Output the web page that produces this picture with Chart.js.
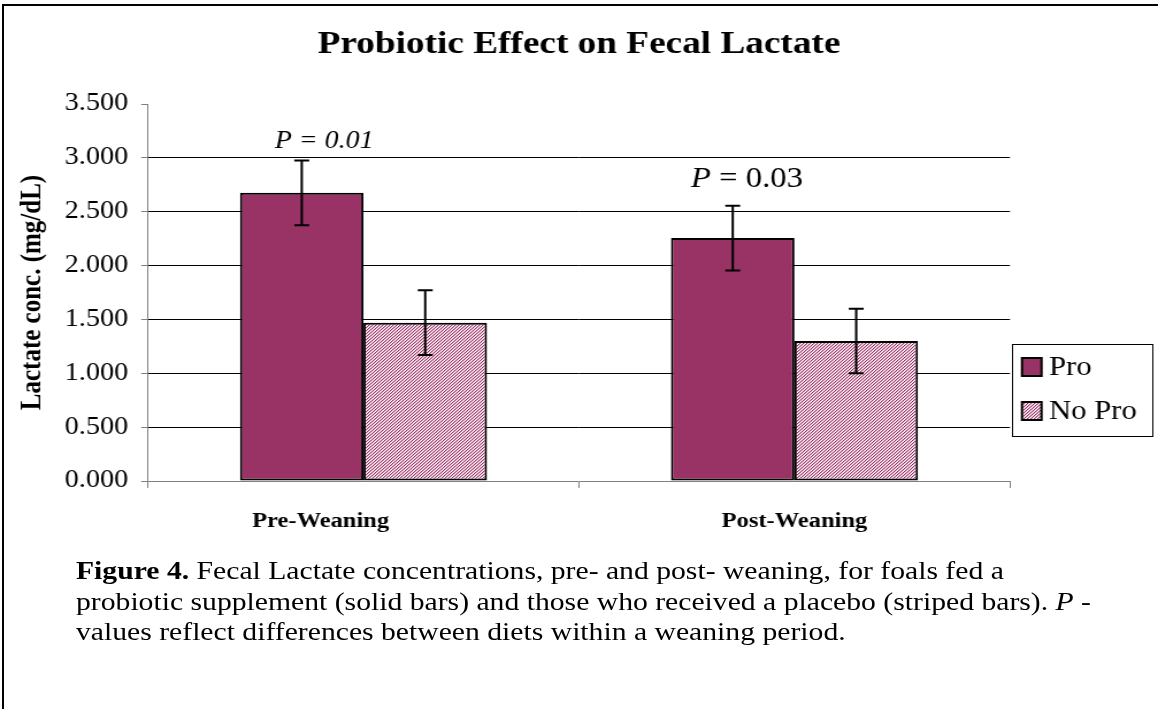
<!DOCTYPE html>
<html>
<head>
<meta charset="utf-8">
<script src="https://cdn.jsdelivr.net/npm/chart.js@4.4.1/dist/chart.umd.min.js"></script>
<style>
  html, body { margin: 0; padding: 0; background: #fff; overflow: hidden; }
  #wrap { position: relative; width: 1158px; height: 709px; }
  #frame { position: absolute; left: 2px; top: 4px; width: 1170px; height: 720px; border: 2px solid #000; }
  #caption {
    position: absolute; left: 76px; top: 556px;
    font-family: 'Liberation Serif', 'Times New Roman', serif;
    font-size: 25.8px; line-height: 30.5px; color: #000; white-space: nowrap;
    transform: scaleX(1.15); transform-origin: left top;
  }
</style>
</head>
<body>
<div id="wrap">
  <div id="frame"></div>
  <canvas id="c" width="1007" height="709" style="position:absolute;left:0;top:0;width:1158px;height:709px"></canvas>
  <div id="caption">
    <b>Figure 4.</b> Fecal Lactate concentrations, pre- and post- weaning, for foals fed a<br>
    probiotic supplement (solid bars) and those who received a placebo (striped bars). <i>P</i> -<br>
    values reflect differences between diets within a weaning period.
  </div>
</div>
<script>
const categories = ['Pre-Weaning', 'Post-Weaning'];
const seriesNames = ['Pro', 'No Pro'];
const proValues = [2.675, 2.255];
const noProValues = [1.47, 1.30];
const proErrors = [0.30, 0.30];
const noProErrors = [0.30, 0.30];
const pValues = ['0.01', '0.03'];
const yMin = 0, yMax = 3.5, yStep = 0.5;

const serif = "'Liberation Serif', 'Times New Roman', serif";
const plum = '#993366';

// the original picture is a bit wider than its fonts, so the canvas is drawn
// narrower and stretched by css (S)
const S = 1.15;
const canvas = document.getElementById('c');
const ctx0 = canvas.getContext('2d');

function hatch() {
    const t = document.createElement('canvas');
    t.width = 3; t.height = 3;
    const g = t.getContext('2d');
    g.fillStyle = '#fff';
    g.fillRect(0, 0, 3, 3);
    for (let i = 0; i < 3; i++) {
        g.fillStyle = plum;
        g.fillRect((3 - i) % 3, i, 1, 1);
        g.fillStyle = '#e0b0c8';
        g.fillRect((4 - i) % 3, i, 1, 1);
    }
    return ctx0.createPattern(t, 'repeat');
}
const stripes = hatch();

const errorSets = [proErrors, noProErrors];

const errorBars = {
    id: 'errorBars',
    afterDatasetsDraw(chart) {
        const ctx = chart.ctx;
        const y = chart.scales.y;
        ctx.save();
        ctx.strokeStyle = '#000';
        ctx.lineWidth = 2;
        chart.data.datasets.forEach((ds, i) => {
            chart.getDatasetMeta(i).data.forEach((bar, j) => {
                const v = ds.data[j], e = errorSets[i][j];
                const top = y.getPixelForValue(v + e);
                const bot = y.getPixelForValue(v - e);
                ctx.beginPath();
                ctx.moveTo(bar.x, top); ctx.lineTo(bar.x, bot);
                ctx.moveTo(bar.x - 6.5, top); ctx.lineTo(bar.x + 6.5, top);
                ctx.moveTo(bar.x - 6.5, bot); ctx.lineTo(bar.x + 6.5, bot);
                ctx.stroke();
            });
        });
        ctx.restore();
    }
};

// P-value notes over the Pro bars
const pNotes = [
    { value: 3.15, dx: -23.5, size: 24.3, allItalic: true },
    { value: 2.80, dx: -36.5, size: 28.5, allItalic: false }
];

const extras = {
    id: 'extras',
    afterDraw(chart) {
        const ctx = chart.ctx;
        const y = chart.scales.y;
        const meta = chart.getDatasetMeta(0);
        ctx.save();
        ctx.fillStyle = '#000';
        ctx.textBaseline = 'middle';

        // title
        ctx.font = 'bold 32.4px ' + serif;
        ctx.textAlign = 'center';
        ctx.fillText('Probiotic Effect on Fecal Lactate', chart.width / 2, 45);
        ctx.textAlign = 'left';

        pNotes.forEach((n, j) => {
            let x = meta.data[j].x + n.dx;
            const py = y.getPixelForValue(n.value);
            ctx.font = 'italic ' + n.size + 'px ' + serif;
            ctx.fillText('P', x, py);
            x += ctx.measureText('P').width;
            if (!n.allItalic) ctx.font = n.size + 'px ' + serif;
            ctx.fillText(' = ' + pValues[j], x, py);
        });

        // legend
        const lx = 1012 / S, rx = 1152 / S;
        ctx.lineWidth = 1;
        ctx.strokeStyle = '#000';
        ctx.strokeRect(Math.round(lx) + 0.5, 344.5, Math.round(rx - lx), 92);
        const rows = [367, 411];
        ctx.font = '26.7px ' + serif;
        chart.data.datasets.forEach((ds, i) => {
            ctx.fillStyle = ds.backgroundColor;
            ctx.fillRect(1022 / S, rows[i] - 9, 17, 18);
            ctx.lineWidth = 2;
            ctx.strokeRect(1022 / S, rows[i] - 9, 17, 18);
            ctx.fillStyle = '#000';
            ctx.fillText(ds.label, 1049 / S, rows[i] + 1);
        });
        ctx.restore();
    }
};

new Chart(canvas, {
    type: 'bar',
    data: {
        labels: categories,
        datasets: [
            {
                label: seriesNames[0],
                data: proValues,
                backgroundColor: plum,
                borderColor: '#000',
                borderWidth: 2,
                borderSkipped: false
            },
            {
                label: seriesNames[1],
                data: noProValues,
                backgroundColor: stripes,
                borderColor: '#000',
                borderWidth: 2,
                borderSkipped: false
            }
        ]
    },
    options: {
        responsive: false,
        animation: false,
        devicePixelRatio: 1,
        layout: { padding: { top: 104, right: 1007 - 1010 / S, left: 0, bottom: 0 } },
        datasets: { bar: { categoryPercentage: 0.573, barPercentage: 1 } },
        plugins: {
            legend: { display: false },
            title: { display: false },
            tooltip: { enabled: false }
        },
        scales: {
            x: {
                afterFit(s) { s.height = 228; },
                grid: { drawOnChartArea: false, tickLength: 7, color: '#808080', offset: true },
                border: { display: true, color: '#808080', width: 1 },
                ticks: {
                    color: '#000',
                    padding: 21,
                    font: { family: serif, size: 21.3, weight: 'bold' },
                    // the first label sits left of its group in the original (trailing blanks)
                    callback: (v, i) => i === 0 ? categories[i] + '\u00a0'.repeat(14) : categories[i]
                }
            },
            y: {
                min: yMin,
                max: yMax,
                afterFit(s) { s.width = 148 / S; },
                grid: {
                    tickLength: 6,
                    tickColor: '#808080',
                    color: c => (c.tick && (c.tick.value === yMax || c.tick.value === yMin)) ? 'rgba(0,0,0,0)' : '#000'
                },
                border: { display: true, color: '#808080', width: 1 },
                ticks: {
                    stepSize: yStep,
                    color: '#000',
                    padding: 11.3,
                    font: { family: serif, size: 24.5 },
                    callback: v => Number(v).toFixed(3)
                },
                title: {
                    display: true,
                    text: 'Lactate conc. (mg/dL)',
                    color: '#000',
                    padding: { top: 13.7, bottom: 0 },
                    font: { family: serif, size: 25, weight: 'bold' }
                }
            }
        }
    },
    plugins: [errorBars, extras]
});
</script>
</body>
</html>
